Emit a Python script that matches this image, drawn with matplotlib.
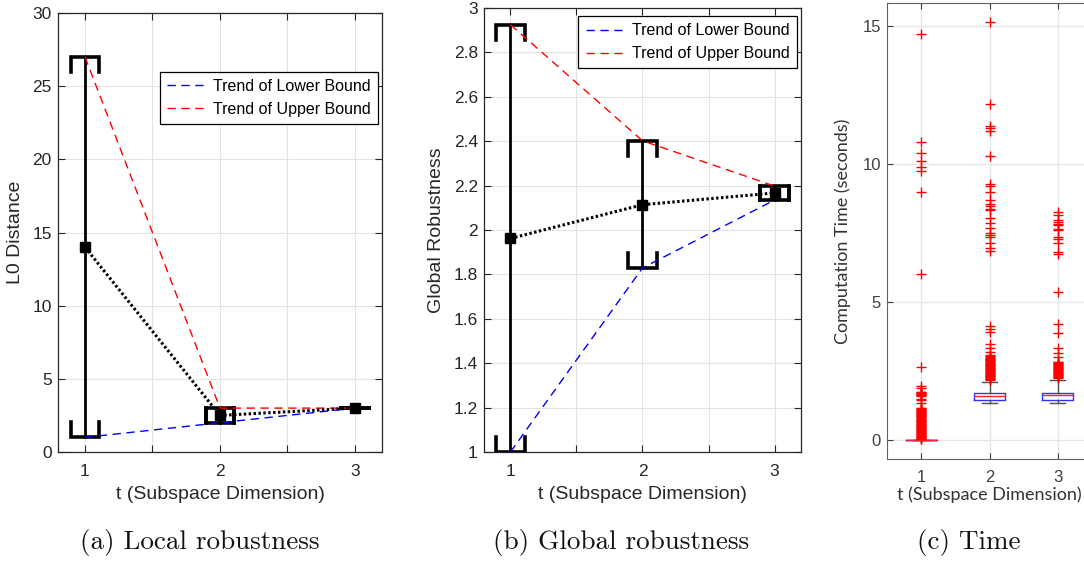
import matplotlib
matplotlib.use("Agg")
import matplotlib.pyplot as plt
from matplotlib.ticker import FormatStrFormatter

# subspace dimensions
t = [1, 2, 3]

# (a) local robustness, L0 distance
local_mean = [14, 2.5, 3]
local_lower = [1, 2, 3]
local_upper = [27, 3, 3]

# (b) global robustness
global_mean = [1.962, 2.114, 2.167]
global_lower = [1.0, 1.829, 2.135]
global_upper = [2.925, 2.402, 2.198]

# (c) computation time box plot stats
time_q1 = [0, 1.44, 1.43]
time_med = [0, 1.60, 1.62]
time_q3 = [0, 1.71, 1.71]
time_whislo = [0, 1.34, 1.34]
time_whishi = [0, 2.09, 2.17]
time_out1 = [14.71, 10.8, 10.41, 10.1, 9.88, 9.73, 8.97, 6.0, 2.66, 1.97, 1.9,
             1.75, 1.72, 1.7, 1.68, 1.66, 1.64, 1.62, 1.6, 1.5, 1.45, 1.33,
             1.17, 1.14, 1.12, 1.09, 1.07, 1.04, 1.02, 0.99, 0.97, 0.94, 0.92,
             0.89, 0.87, 0.84, 0.82, 0.79, 0.77, 0.74, 0.72, 0.69, 0.67, 0.64,
             0.62, 0.59, 0.57, 0.54, 0.52, 0.49, 0.47, 0.44, 0.42, 0.39, 0.37,
             0.34, 0.32, 0.29, 0.27, 0.24, 0.22, 0.19, 0.17, 0.14, 0.12, 0.09,
             0.07, 0.04, 0.02]
time_out2 = [15.15, 12.16, 11.39, 11.3, 11.21, 10.3, 9.26, 9.2, 9.0, 8.7, 8.55,
             8.48, 8.37, 8.33, 8.03, 7.85, 7.67, 7.51, 7.43, 7.34, 7.15, 6.94,
             6.86, 4.13, 4.02, 3.9, 3.48, 3.32, 3.2, 3.08, 3.03, 3.0, 2.97,
             2.95, 2.92, 2.9, 2.87, 2.85, 2.82, 2.8, 2.77, 2.75, 2.72, 2.7,
             2.67, 2.65, 2.62, 2.6, 2.57, 2.55, 2.52, 2.5, 2.47, 2.45, 2.42,
             2.4, 2.37, 2.35, 2.32, 2.3, 2.27, 2.25, 2.22, 2.2, 2.17]
time_out3 = [8.27, 8.15, 7.97, 7.91, 7.83, 7.79, 7.64, 7.6, 7.37, 7.27, 7.13,
             6.82, 6.73, 5.37, 4.2, 3.87, 3.32, 3.16, 3.02, 2.84, 2.82, 2.79,
             2.77, 2.74, 2.72, 2.69, 2.67, 2.64, 2.62, 2.59, 2.57, 2.54, 2.52,
             2.49, 2.47, 2.44, 2.42, 2.39, 2.37, 2.34, 2.32, 2.29, 2.27, 2.24]

xtick_pos = [1, 1.5, 2, 2.5, 3]
xtick_labels = ["1", "", "2", "", "3"]
xlabel = "t (Subspace Dimension)"
captions = ["(a) Local robustness", "(b) Global robustness", "(c) Time"]

plt.rcParams["font.family"] = ["Liberation Sans", "DejaVu Sans"]
TXT = "#262626"


def bounds_panel(ax, mean, lower, upper, ylim, ylabel):
    span = ylim[1] - ylim[0]
    w = 0.107
    for x, lo, hi in zip(t, lower, upper):
        s = min(0.034 * span, hi - lo)
        ax.plot([x, x], [lo, hi], color="k", lw=2, zorder=3)
        ax.plot([x - w, x - w, x + w, x + w], [hi - s, hi, hi, hi - s],
                color="k", lw=2.6, solid_joinstyle="miter", zorder=3)
        ax.plot([x - w, x - w, x + w, x + w], [lo + s, lo, lo, lo + s],
                color="k", lw=2.6, solid_joinstyle="miter", zorder=3)
    ax.plot(t, lower, "--", color="#0000ff", lw=1, dashes=(6, 4),
            label="Trend of Lower Bound", zorder=4)
    ax.plot(t, upper, "--", color="#ff0000", lw=1, dashes=(6, 4),
            label="Trend of Upper Bound", zorder=4)
    ax.plot(t, mean, color="k", lw=2.2, dashes=(0.8, 0.8), zorder=5)
    ax.plot(t, mean, "s", color="k", ms=7.7, zorder=6)
    ax.set_xlim(0.8, 3.2)
    ax.set_ylim(*ylim)
    ax.set_xticks(xtick_pos)
    ax.set_xticklabels(xtick_labels)
    ax.grid(True, color="#e3e3e3", lw=0.8)
    ax.set_axisbelow(True)
    ax.tick_params(direction="in", top=True, right=True, length=5, width=0.8,
                   labelsize=12.5, colors=TXT)
    ax.tick_params(axis="x", pad=9)
    ax.tick_params(axis="y", pad=4.5)
    for sp in ax.spines.values():
        sp.set_color(TXT)
        sp.set_linewidth(0.9)
    ax.set_xlabel(xlabel, fontsize=14, color=TXT, labelpad=5)
    ax.set_ylabel(ylabel, fontsize=14, color=TXT, labelpad=6)


def add_legend(ax, anchor):
    leg = ax.legend(loc="upper right", bbox_to_anchor=anchor, fontsize=11.5,
                    fancybox=False, framealpha=1, edgecolor="k",
                    handlelength=2.4, labelspacing=0.5, borderpad=0.45,
                    handletextpad=0.5, borderaxespad=0)
    leg.get_frame().set_linewidth(0.9)


fig = plt.figure(figsize=(10.84, 5.61), dpi=100)

ax1 = fig.add_axes([0.0535, 0.1943, 0.2989, 0.7825])
bounds_panel(ax1, local_mean, local_lower, local_upper, (0, 30), "L0 Distance")
ax1.set_yticks(range(0, 31, 5))
add_legend(ax1, (0.988, 0.866))

ax2 = fig.add_axes([0.4465, 0.1943, 0.2924, 0.7914])
bounds_panel(ax2, global_mean, global_lower, global_upper, (1, 3),
             "Global Robustness")
ax2.set_yticks([1, 1.2, 1.4, 1.6, 1.8, 2, 2.2, 2.4, 2.6, 2.8, 3])
ax2.yaxis.set_major_formatter(FormatStrFormatter("%g"))
add_legend(ax2, (0.987, 0.982))

# (c) box plot
ax3 = fig.add_axes([0.8183, 0.1818, 0.1891, 0.8128])
outs = [time_out1, time_out2, time_out3]
stats = []
for i in range(3):
    stats.append(dict(med=time_med[i], q1=time_q1[i], q3=time_q3[i],
                      whislo=time_whislo[i], whishi=time_whishi[i],
                      fliers=outs[i]))
ax3.bxp(stats, positions=t, widths=0.45, capwidths=0.22, showfliers=True,
        boxprops=dict(color="#3030ff", lw=1),
        medianprops=dict(color="#ff2020", lw=1),
        whiskerprops=dict(color="#505050", lw=1),
        capprops=dict(color="#505050", lw=1),
        flierprops=dict(marker="+", markeredgecolor="#ff0000", markersize=6.5,
                        markeredgewidth=1, linestyle="none"))
ax3.set_xlim(0.5, 3.5)
ax3.set_ylim(-0.69, 15.83)
ax3.set_xticks(t)
ax3.set_xticklabels(["1", "2", "3"])
ax3.set_yticks([0, 5, 10, 15])
ax3.grid(True, color="#e6e6e6", lw=1)
ax3.set_axisbelow(True)
ax3.tick_params(direction="in", top=True, right=True, length=4, width=0.8,
                labelsize=12, colors="#404040")
ax3.tick_params(axis="x", pad=8)
ax3.tick_params(axis="y", pad=4.5)
for sp in ax3.spines.values():
    sp.set_color("#606060")
ax3.set_xlabel(xlabel, fontsize=13, color="#333333", family="Lato", labelpad=1)
ax3.set_ylabel("Computation Time (seconds)", fontsize=13, color="#333333",
               family="Lato", labelpad=8)

# captions
for x, cap in zip([200, 621, 969], captions):
    fig.text(x / 1084, 1 - 543 / 561, cap, family="cmr10", fontsize=19.5,
             ha="center", va="center", color="#111111")

fig.savefig("out.png", dpi=100)
